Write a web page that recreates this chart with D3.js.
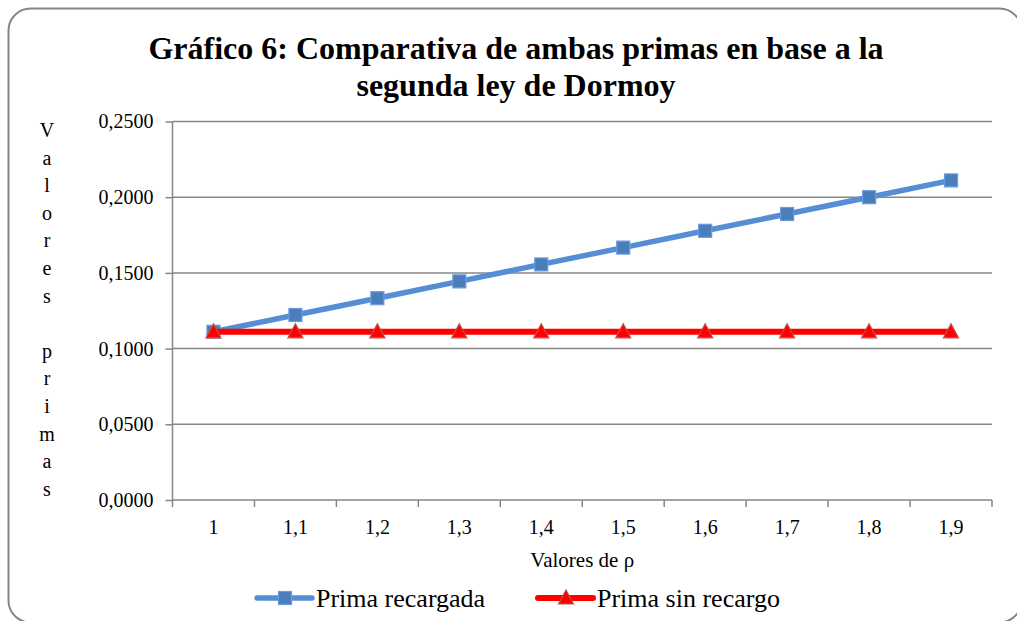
<!DOCTYPE html>
<html>
<head>
<meta charset="utf-8">
<script src="https://cdn.jsdelivr.net/npm/d3@7"></script>
<style>
  html, body { margin: 0; padding: 0; background: #fff; }
  svg { display: block; }
  text { font-family: "Liberation Serif", "Times New Roman", serif; fill: #000; }
</style>
</head>
<body>
<svg id="chart" width="1017" height="621"></svg>
<script>
// ---- data ----
const categories = ["1", "1,1", "1,2", "1,3", "1,4", "1,5", "1,6", "1,7", "1,8", "1,9"];
const primaRecargada = [0.1111, 0.1222, 0.1333, 0.1444, 0.1556, 0.1667, 0.1778, 0.1889, 0.2000, 0.2111];
const primaSinRecargo = [0.1111, 0.1111, 0.1111, 0.1111, 0.1111, 0.1111, 0.1111, 0.1111, 0.1111, 0.1111];
const yTicks = [0, 0.05, 0.10, 0.15, 0.20, 0.25];
const titleLines = ["Gráfico 6: Comparativa de ambas primas en base a la", "segunda ley de Dormoy"];
const yAxisTitle = "Valores primas";
const xAxisTitle = "Valores de ρ";
const seriesNames = ["Prima recargada", "Prima sin recargo"];

// ---- layout ----
const svg = d3.select("#chart");
const plot = { left: 172.5, right: 992, top: 121.5, bottom: 500 };
const gridColor = "#868686";

// frame
svg.append("rect")
  .attr("x", 8.5).attr("y", 8.5)
  .attr("width", 1013).attr("height", 614)
  .attr("rx", 22).attr("ry", 22)
  .attr("fill", "#fff").attr("stroke", "#868686").attr("stroke-width", 2);

// title
svg.append("g").selectAll("text").data(titleLines).join("text")
  .attr("x", 516).attr("y", (d, i) => 59 + i * 37)
  .attr("text-anchor", "middle")
  .attr("font-weight", "bold").attr("font-size", 32)
  .text(d => d);

const x = d3.scaleBand().domain(categories).range([plot.left, plot.right]).padding(0);
const y = d3.scaleLinear().domain([0, 0.25]).range([plot.bottom, plot.top]);
const fmt = v => d3.format(".4f")(v).replace(".", ",");

// gridlines
svg.append("g").selectAll("line").data(yTicks.filter(t => t > 0)).join("line")
  .attr("x1", plot.left).attr("x2", plot.right)
  .attr("y1", d => y(d)).attr("y2", d => y(d))
  .attr("stroke", gridColor).attr("stroke-width", 1.5);

// y axis
const yAxis = svg.append("g")
  .attr("transform", `translate(${plot.left},0)`)
  .call(d3.axisLeft(y).tickValues(yTicks).tickFormat(fmt).tickSize(7).tickPadding(12));
yAxis.select(".domain").attr("stroke", gridColor).attr("stroke-width", 1.5).attr("d", `M0,${plot.top}V${plot.bottom}`);
yAxis.selectAll(".tick line").attr("stroke", gridColor).attr("stroke-width", 1.5);
yAxis.selectAll(".tick text").attr("font-size", 20).attr("font-family", "Liberation Serif").attr("fill", "#000");

// x axis line + ticks at band boundaries
const xg = svg.append("g");
xg.append("line").attr("x1", plot.left).attr("x2", plot.right)
  .attr("y1", plot.bottom).attr("y2", plot.bottom)
  .attr("stroke", gridColor).attr("stroke-width", 1.5);
const boundaries = categories.map(c => x(c)).concat([x.range()[1]]);
xg.selectAll("line.tk").data(boundaries).join("line").attr("class", "tk")
  .attr("x1", d => d).attr("x2", d => d)
  .attr("y1", plot.bottom).attr("y2", plot.bottom + 7)
  .attr("stroke", gridColor).attr("stroke-width", 1.5);
xg.selectAll("text").data(categories).join("text")
  .attr("x", d => x(d) + x.bandwidth() / 2).attr("y", 534)
  .attr("text-anchor", "middle").attr("font-size", 20)
  .text(d => d);

// axis titles
svg.append("text").attr("x", (plot.left + plot.right) / 2).attr("y", 567)
  .attr("text-anchor", "middle").attr("font-size", 21).text(xAxisTitle);

svg.append("g").selectAll("text").data(yAxisTitle.split("")).join("text")
  .attr("x", 47).attr("y", (d, i) => 137 + i * 27.6)
  .attr("text-anchor", "middle").attr("font-size", 20)
  .text(d => d);

// series
const cx = (d, i) => x(categories[i]) + x.bandwidth() / 2;
const line = d3.line().x(cx).y(d => y(d));

const blue = "#558ED5", blueMarker = "#4A7EBB", blueMarkerStroke = "#6A9BE0";
const red = "#FF0000", redMarkerStroke = "#C0504D";

function square(g, px, py) {
  g.append("rect").attr("x", px - 6.5).attr("y", py - 6.5).attr("width", 13).attr("height", 13)
    .attr("fill", blueMarker).attr("stroke", blueMarkerStroke).attr("stroke-width", 1.2);
}
function triangle(g, px, py) {
  g.append("path").attr("d", `M${px},${py - 8}L${px + 7.5},${py + 6}L${px - 7.5},${py + 6}Z`)
    .attr("fill", red).attr("stroke", redMarkerStroke).attr("stroke-width", 1.2);
}

const gBlue = svg.append("g");
gBlue.append("path").datum(primaRecargada).attr("d", line)
  .attr("fill", "none").attr("stroke", blue).attr("stroke-width", 5.5).attr("stroke-linejoin", "round");
primaRecargada.forEach((v, i) => square(gBlue, cx(v, i), y(v)));

const gRed = svg.append("g");
gRed.append("path").datum(primaSinRecargo).attr("d", line)
  .attr("fill", "none").attr("stroke", red).attr("stroke-width", 6).attr("stroke-linejoin", "round");
primaSinRecargo.forEach((v, i) => triangle(gRed, cx(v, i), y(v)));

// legend
const legend = svg.append("g");
const legItems = [
  { name: seriesNames[0], x0: 257, color: blue, marker: square, w: 5.5 },
  { name: seriesNames[1], x0: 538, color: red, marker: triangle, w: 6 }
];
legItems.forEach(it => {
  legend.append("line").attr("x1", it.x0).attr("x2", it.x0 + 55).attr("y1", 598).attr("y2", 598)
    .attr("stroke", it.color).attr("stroke-width", it.w).attr("stroke-linecap", "round");
  it.marker(legend, it.x0 + 28, 598);
  legend.append("text").attr("x", it.x0 + 59).attr("y", 607).attr("font-size", 26).text(it.name);
});
</script>
</body>
</html>
